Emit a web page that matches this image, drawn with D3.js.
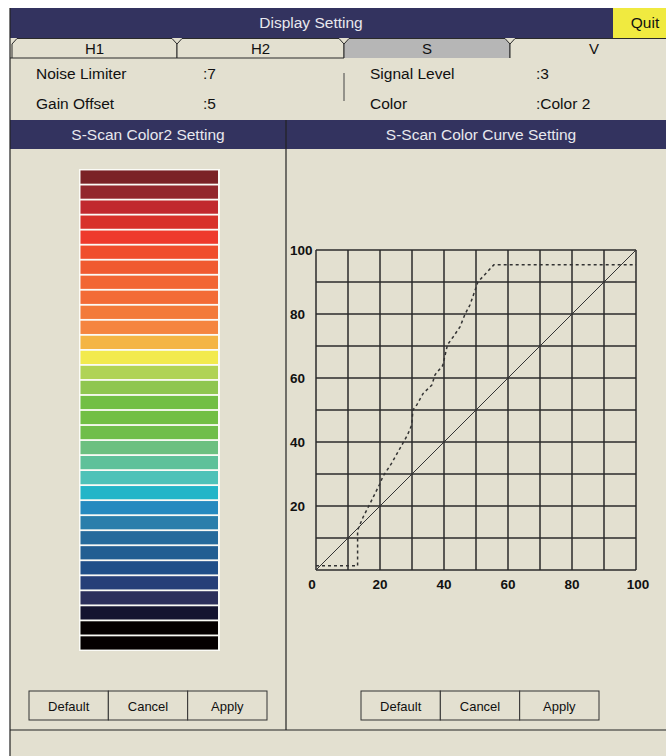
<!DOCTYPE html>
<html><head><meta charset="utf-8">
<script src="https://cdn.jsdelivr.net/npm/d3@7/dist/d3.min.js"></script>
<style>
html,body{margin:0;padding:0;background:#fff;}
svg{display:block;font-family:"Liberation Sans",Arial,sans-serif;}
</style></head>
<body><svg id="c" width="666" height="756"></svg>
<script>
// ---- data ----
const title = "Display Setting";
const quitLabel = "Quit";
const tabs = ["H1", "H2", "S", "V"];
const activeTab = "S";
const infoLeftLabels = ["Noise Limiter", "Gain Offset"];
const infoLeftValues = [":7", ":5"];
const infoRightLabels = ["Signal Level", "Color"];
const infoRightValues = [":3", ":Color 2"];
const panelTitles = ["S-Scan Color2 Setting", "S-Scan Color Curve Setting"];
const buttonLabels = ["Default", "Cancel", "Apply"];
const barColors = [
  "#7b2226","#93272c","#c1292e","#d83129","#ee3a2c","#f04e2c","#f05a30","#f26633",
  "#f36b36","#f37a3a","#f58540","#f4b544","#f2ea4e","#b0d355","#8fc650","#72bf44",
  "#72bf44","#70be4a","#6cc080","#5ec19a","#4fc2b8","#23b5c8","#268abf","#2a7eab",
  "#266b9c","#225e92","#204f89","#263f78","#2c305c","#141430","#050000","#050000"
];
const linearIn = [0, 100];
const linearOut = [0, 100];
const curveIn  = [0, 13, 13, 14.8, 16.3, 19.8, 21, 23.6, 26.8, 28.6, 29.9, 30.3, 31.5, 33.5, 36.2, 37.2, 39.6, 41.1, 42.9, 45, 46.6, 48.1, 50.6, 55.6, 100];
const curveOut = [1.3, 1.3, 12.5, 16.7, 19.6, 26.6, 29.4, 33.3, 39, 42.2, 45.3, 50, 51.6, 55.2, 57.8, 61, 63.9, 70.4, 72.9, 76, 80, 82.8, 90, 95.4, 95.4];
const xTicks = [0, 20, 40, 60, 80, 100];
const yTicks = [20, 40, 60, 80, 100];
const gridTicks = [0,10,20,30,40,50,60,70,80,90,100];

// ---- drawing ----
const svg = d3.select("#c");
const NAVY = "#33335f", BEIGE = "#e3e0d0", LINE = "#2a2a2a";

svg.append("rect").attr("x",10).attr("y",8).attr("width",656).attr("height",748).attr("fill",BEIGE);
svg.append("rect").attr("x",10).attr("y",8).attr("width",603).attr("height",30).attr("fill",NAVY);
svg.append("text").attr("x",311).attr("y",22.5).attr("text-anchor","middle").attr("dominant-baseline","central")
  .attr("fill","#e8e8ee").attr("font-size",15.5).text(title);
svg.append("rect").attr("x",613).attr("y",8).attr("width",53).attr("height",30).attr("fill","#f0ea40");
svg.append("text").attr("x",645).attr("y",22.5).attr("text-anchor","middle").attr("dominant-baseline","central")
  .attr("fill","#111").attr("font-size",15.5).text(quitLabel);

// tabs
const tabEdges = [12, 177, 344, 510, 676];
tabs.forEach((t,i)=>{
  const x0 = tabEdges[i], x1 = tabEdges[i+1];
  const p = `M${x0},58 L${x0},44 L${x0+5},38.5 L${x1-5},38.5 L${x1},44 L${x1},58`;
  svg.append("path").attr("d", p + " Z").attr("fill", t===activeTab ? "#b6b6b6" : BEIGE).attr("stroke","none");
  svg.append("path").attr("d", p).attr("fill","none").attr("stroke",LINE).attr("stroke-width",1);
  svg.append("text").attr("x",i===3 ? 594 : (x0+x1)/2).attr("y",48).attr("text-anchor","middle")
    .attr("dominant-baseline","central").attr("font-size",15).attr("fill","#111").text(t);
});
svg.append("line").attr("x1",10).attr("x2",344).attr("y1",58).attr("y2",58).attr("stroke",LINE);

// info rows
const rowY = [73, 103];
infoLeftLabels.forEach((l,i)=>{
  svg.append("text").attr("x",36).attr("y",rowY[i]).attr("dominant-baseline","central").attr("font-size",15.5).attr("fill","#111").text(l);
  svg.append("text").attr("x",203).attr("y",rowY[i]).attr("dominant-baseline","central").attr("font-size",15.5).attr("fill","#111").text(infoLeftValues[i]);
  svg.append("text").attr("x",370).attr("y",rowY[i]).attr("dominant-baseline","central").attr("font-size",15.5).attr("fill","#111").text(infoRightLabels[i]);
  svg.append("text").attr("x",536).attr("y",rowY[i]).attr("dominant-baseline","central").attr("font-size",15.5).attr("fill","#111").text(infoRightValues[i]);
});
svg.append("line").attr("x1",344).attr("x2",344).attr("y1",73).attr("y2",101).attr("stroke","#444");

// panel headers
svg.append("rect").attr("x",10).attr("y",120).attr("width",656).attr("height",29).attr("fill",NAVY);
svg.append("text").attr("x",148).attr("y",134).attr("text-anchor","middle").attr("dominant-baseline","central")
  .attr("fill","#e8e8ee").attr("font-size",15.5).text(panelTitles[0]);
svg.append("text").attr("x",481).attr("y",134).attr("text-anchor","middle").attr("dominant-baseline","central")
  .attr("fill","#e8e8ee").attr("font-size",15.5).text(panelTitles[1]);
svg.append("line").attr("x1",286).attr("x2",286).attr("y1",120).attr("y2",730).attr("stroke","#222").attr("stroke-width",1.2);
svg.append("line").attr("x1",10).attr("x2",666).attr("y1",730).attr("y2",730).attr("stroke","#222").attr("stroke-width",1.2);
svg.append("line").attr("x1",10).attr("x2",10).attr("y1",8).attr("y2",756).attr("stroke","#222").attr("stroke-width",1.2);

// color bars
const barY = d3.scaleBand().domain(d3.range(barColors.length)).range([170, 650]).paddingInner(0.12).paddingOuter(0.03);
svg.append("rect").attr("x",79).attr("y",169).attr("width",141).attr("height",482).attr("fill","#fbfbf6");
svg.append("g").selectAll("rect").data(barColors).join("rect")
  .attr("x",80.5).attr("width",137.5)
  .attr("y",(d,i)=>barY(i)).attr("height",barY.bandwidth())
  .attr("fill",d=>d);

// chart
const x = d3.scaleLinear().domain([0,100]).range([316,636]);
const y = d3.scaleLinear().domain([0,100]).range([570,250]);
const g = svg.append("g");
g.selectAll(".vx").data(gridTicks).join("line")
  .attr("x1",d=>x(d)).attr("x2",d=>x(d)).attr("y1",y(0)).attr("y2",y(100))
  .attr("stroke","#2b2b2b").attr("stroke-width",1.5);
g.selectAll(".hy").data(gridTicks).join("line")
  .attr("y1",d=>y(d)).attr("y2",d=>y(d)).attr("x1",x(0)).attr("x2",x(100))
  .attr("stroke","#2b2b2b").attr("stroke-width",1.5);

g.selectAll(".xt").data(xTicks).join("text")
  .attr("x",d=>x(d) + (d===0?-4:(d===100?2:0))).attr("y",584).attr("text-anchor","middle").attr("dominant-baseline","central")
  .attr("font-size",13.5).attr("font-weight","bold").attr("fill","#111").text(d=>d);
g.selectAll(".yt").data(yTicks).join("text")
  .attr("x",290).attr("y",d=>y(d)).attr("text-anchor","start").attr("dominant-baseline","central")
  .attr("font-size",13.5).attr("font-weight","bold").attr("fill","#111").text(d=>d);

const lineGen = d3.line().x(d=>x(d[0])).y(d=>y(d[1]));
g.append("path").attr("d", lineGen(linearIn.map((v,i)=>[v, linearOut[i]])))
  .attr("fill","none").attr("stroke","#333").attr("stroke-width",1);
g.append("path").attr("d", lineGen(curveIn.map((v,i)=>[v, curveOut[i]])))
  .attr("fill","none").attr("stroke","#333").attr("stroke-width",1.5).attr("stroke-dasharray","3,3");

// buttons
function buttons(x0){
  const bx = d3.scaleBand().domain(buttonLabels).range([x0, x0+238]);
  const bg = svg.append("g");
  bg.selectAll("rect").data(buttonLabels).join("rect")
    .attr("x",d=>bx(d)).attr("y",691).attr("width",bx.bandwidth()).attr("height",29)
    .attr("fill",BEIGE).attr("stroke","#333").attr("stroke-width",1);
  bg.selectAll("text").data(buttonLabels).join("text")
    .attr("x",d=>bx(d)+bx.bandwidth()/2).attr("y",706).attr("text-anchor","middle").attr("dominant-baseline","central")
    .attr("font-size",13).attr("fill","#111").text(d=>d);
}
buttons(29);
buttons(361);
</script></body></html>
